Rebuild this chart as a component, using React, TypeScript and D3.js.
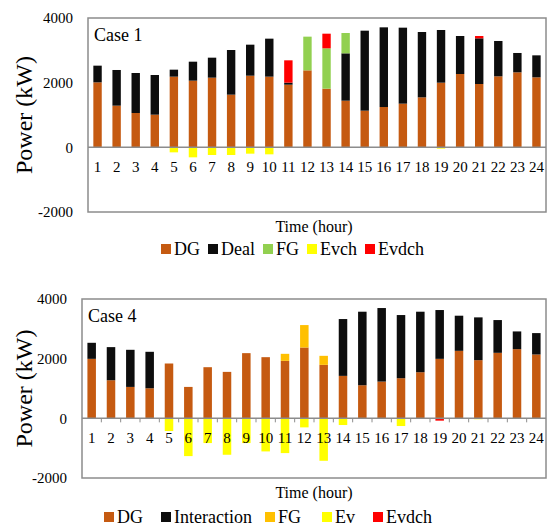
import React from "react";
import * as d3 from "d3";

const hours = d3.range(1, 25).map(String);

// Case 1
const dg1 = [2010,1289,1062,1010,2186,2062,2155,1629,2216,2186,1938,2381,1814,1443,1134,1247,1351,1546,2000,2268,1959,2196,2320,2165];
const deal1 = [516,1103,1237,1227,216,587,618,1381,959,1175,62,0,0,1464,2474,2464,2350,2021,1629,1175,1412,1093,598,680];
const fg1 = [0,0,0,0,0,0,0,0,0,0,0,1042,1248,629,0,0,0,0,0,0,0,0,0,0];
const evch1 = [0,0,0,0,-155,-309,-237,-237,-196,-216,0,0,0,0,0,0,0,0,-40,0,0,0,0,0];
const evdch1 = [0,0,0,0,0,0,0,0,0,0,691,0,453,0,0,0,0,0,0,0,72,0,0,0];

// Case 4
const dg4 = [1994,1277,1053,1008,1838,1053,1714,1557,2185,2050,1927,2375,1793,1423,1109,1232,1345,1546,1994,2263,1950,2196,2319,2140];
const inter4 = [538,1110,1244,1222,0,0,0,0,0,0,0,0,0,1905,2465,2465,2117,2028,1636,1177,1434,1098,594,717];
const fg4 = [0,0,0,0,0,0,0,0,0,0,235,751,302,0,0,0,0,0,0,0,0,0,0,0];
const ev4 = [0,0,0,0,-426,-1266,-829,-1221,-829,-1109,-1165,-303,-1423,-224,0,0,-258,0,0,0,-30,0,0,0];
const evdch4 = [0,0,0,0,0,0,0,0,0,0,0,0,0,0,0,0,0,0,-78,0,0,0,0,0];

const yTicks = [-2000, 0, 2000, 4000];

const C_DG = "#c55a11";
const C_BLACK = "#0d0d0d";
const C_FG1 = "#92d050";
const C_FG4 = "#ffc000";
const C_EV = "#ffff00";
const C_RED = "#ff0000";

const FONT = "Liberation Serif";
const GRAY = "#8c8c8c";

type Series = { name: string; color: string; values: number[] };

function Panel(props: {
  series: Series[];
  caseLabel: string;
  left: number; right: number; top: number; bottom: number;
  tickMarks: boolean;
  catLabelY: number; timeY: number; legendY: number;
  legendX: number[]; legendTextGap: number;
}) {
  const { series, left, right, top, bottom } = props;
  const x = d3.scaleBand<string>().domain(hours).range([left, right]).paddingInner(0.56).paddingOuter(0.28);
  const y = d3.scaleLinear().domain([-2000, 4000]).range([bottom, top]);
  const rows = hours.map((h, i) => {
    const r: any = { h };
    series.forEach((s) => (r[s.name] = s.values[i]));
    return r;
  });
  const stack = d3.stack<any>().keys(series.map((s) => s.name)).offset(d3.stackOffsetDiverging);
  const layers = stack(rows);
  const y0 = y(0);
  return (
    <g>
      <rect x={left} y={top} width={right - left} height={bottom - top} fill="none" stroke={GRAY} strokeWidth={1.5} />
      {layers.map((layer, li) => (
        <g key={layer.key} fill={series[li].color}>
          {layer.map((d, i) => {
            const a = y(d[0]);
            const b = y(d[1]);
            const hgt = Math.abs(a - b);
            if (hgt < 0.01) return null;
            return <rect key={i} x={x(hours[i])} y={Math.min(a, b)} width={x.bandwidth()} height={hgt} />;
          })}
        </g>
      ))}
      <line x1={left} x2={right} y1={y0} y2={y0} stroke={GRAY} strokeWidth={1.5} />
      {props.tickMarks &&
        hours.map((h, i) => {
          const xx = left + (i + 1) * x.step();
          if (i === hours.length - 1) return null;
          return <line key={h} x1={xx} x2={xx} y1={y0} y2={y0 + 4} stroke={GRAY} strokeWidth={1} />;
        })}
      {yTicks.map((t) => (
        <text key={t} x={left - 15} y={y(t)} dy="0.35em" textAnchor="end" fontSize={15} fontFamily={FONT} fill="#000">
          {t}
        </text>
      ))}
      {hours.map((h) => (
        <text key={h} x={(x(h) as number) + x.bandwidth() / 2} y={props.catLabelY} textAnchor="middle" fontSize={15} fontFamily={FONT} fill="#000">
          {h}
        </text>
      ))}
      <text x={left + 6} y={top + 23} fontSize={18} fontFamily={FONT} fill="#000">{props.caseLabel}</text>
      <text transform={`translate(${32},${(top + bottom) / 2}) rotate(-90)`} textAnchor="middle" fontSize={24} fontFamily={FONT} fill="#000">
        Power (kW)
      </text>
      <text x={314} y={props.timeY} textAnchor="middle" fontSize={16} fontFamily={FONT} fill="#000">Time (hour)</text>
      {series.map((s, i) => (
        <g key={s.name}>
          <rect x={props.legendX[i]} y={props.legendY - 11} width={10} height={10} fill={s.color} />
          <text x={props.legendX[i] + props.legendTextGap} y={props.legendY} fontSize={18} fontFamily={FONT} fill="#000">{s.name}</text>
        </g>
      ))}
    </g>
  );
}

export default function App() {
  const s1: Series[] = [
    { name: "DG", color: C_DG, values: dg1 },
    { name: "Deal", color: C_BLACK, values: deal1 },
    { name: "FG", color: C_FG1, values: fg1 },
    { name: "Evch", color: C_EV, values: evch1 },
    { name: "Evdch", color: C_RED, values: evdch1 },
  ];
  const s4: Series[] = [
    { name: "DG", color: C_DG, values: dg4 },
    { name: "Interaction", color: C_BLACK, values: inter4 },
    { name: "FG", color: C_FG4, values: fg4 },
    { name: "Ev", color: C_EV, values: ev4 },
    { name: "Evdch", color: C_RED, values: evdch4 },
  ];
  return (
    <svg width={547} height={527} style={{ position: "absolute", left: 0, top: 0, background: "#fff" }}>
      <Panel series={s1} caseLabel="Case 1" left={88} right={546} top={18} bottom={212} tickMarks={false}
        catLabelY={172} timeY={232} legendY={255} legendX={[161, 208, 263, 307, 365]} legendTextGap={13} />
      <Panel series={s4} caseLabel="Case 4" left={82} right={546} top={299} bottom={478} tickMarks={true}
        catLabelY={443} timeY={498} legendY={523} legendX={[104, 161, 265, 322, 373]} legendTextGap={13} />
    </svg>
  );
}
